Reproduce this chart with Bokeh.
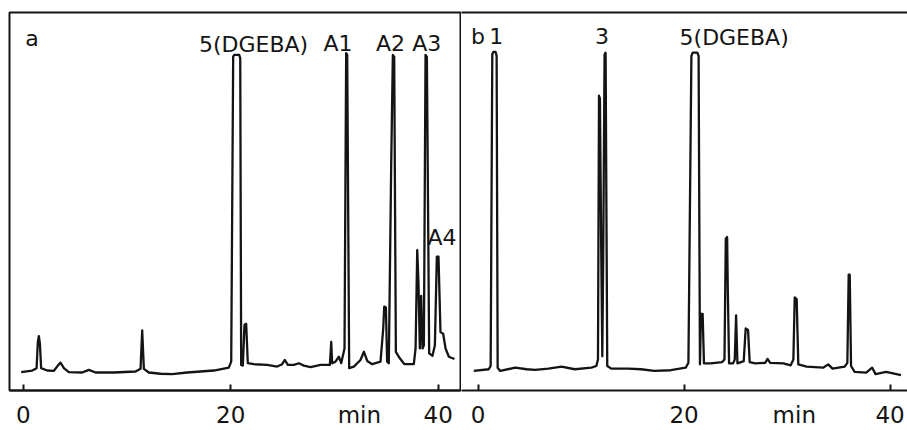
from bokeh.plotting import figure
from bokeh.layouts import row
from bokeh.models import FixedTicker, LinearAxis, Label, Range1d, ColumnDataSource
from bokeh.embed import file_html
from bokeh.resources import INLINE
from bokeh.core.properties import value

# ---------------- data ----------------
# Panel a: retention time (min) and detector signal (arbitrary units)
time_a = [-0.19, 0.87, 1.29, 1.41, 1.51, 1.61, 1.73, 2.31, 2.96, 3.34, 3.60, 3.92,
          4.40, 5.69, 6.33, 6.97, 8.74, 10.83, 11.31, 11.47, 11.63, 12.11, 13.24,
          14.36, 15.81, 18.38, 19.82, 20.05, 20.24, 20.34, 20.82, 20.92, 21.01,
          21.17, 21.33, 21.49, 21.65, 22.23, 23.52, 24.48, 24.96, 25.22, 25.51,
          26.09, 26.57, 27.05, 27.70, 28.66, 29.56, 29.69, 29.78, 30.10, 30.43,
          30.65, 30.97, 31.13, 31.23, 31.42, 31.87, 32.51, 32.84, 33.16, 33.64,
          34.44, 34.70, 34.80, 34.96, 35.08, 35.24, 35.47, 35.63, 35.76, 35.92,
          36.30, 36.75, 37.65, 37.82, 37.98, 38.10, 38.23, 38.36, 38.49, 38.62,
          38.78, 38.91, 39.13, 39.45, 39.68, 39.87, 40.03, 40.22, 40.48, 40.71,
          41.03, 41.57]
signal_a = [18.7, 20.3, 22.7, 49.0, 55.3, 47.7, 22.7, 20.3, 20.0, 25.3, 28.3, 22.7,
            18.7, 18.3, 21.0, 18.3, 18.3, 19.3, 22.0, 61.0, 22.0, 18.3, 17.0,
            16.7, 18.3, 20.3, 23.3, 29.3, 339.3, 341.0, 341.0, 337.7, 26.0,
            25.3, 66.7, 67.7, 27.7, 26.7, 26.0, 24.3, 26.7, 31.0, 26.0,
            26.0, 27.7, 25.3, 23.7, 26.0, 26.0, 49.3, 27.7, 29.3, 34.3,
            27.7, 42.7, 342.7, 341.0, 22.7, 24.3, 31.0, 39.3, 30.0, 26.7,
            29.3, 62.7, 85.3, 84.3, 29.3, 27.7, 229.0, 341.0, 339.0, 39.3,
            32.7, 26.7, 26.7, 42.7, 142.7, 109.0, 42.7, 96.0, 42.7, 46.0,
            341.0, 339.0, 37.7, 35.3, 46.0, 136.0, 136.0, 59.3, 57.7, 42.7,
            34.3, 32.0]

# Panel b
time_b = [-0.42, 1.03, 1.22, 1.38, 1.48, 1.70, 1.80, 1.90, 2.15, 3.60, 4.73, 5.53,
          6.82, 8.10, 9.39, 11.00, 11.48, 11.64, 11.74, 11.83, 11.96, 12.06, 12.15,
          12.28, 12.38, 12.54, 12.93, 14.53, 15.82, 17.10, 18.71, 20.16, 20.42,
          20.71, 20.84, 21.29, 21.41, 21.54, 21.64, 21.80, 21.93, 22.57, 23.70,
          23.92, 24.05, 24.18, 24.24, 24.37, 24.76, 24.92, 25.05, 25.18, 25.79,
          25.98, 26.21, 26.37, 26.91, 27.88, 28.10, 28.36, 29.65, 30.35, 30.61,
          30.74, 30.93, 31.09, 31.90, 33.50, 33.99, 34.41, 35.59, 35.85, 35.98,
          36.08, 36.21, 36.56, 37.68, 38.26, 38.59, 39.61, 41.06]
signal_b = [20.0, 21.7, 25.0, 343.3, 345.7, 345.7, 341.7, 23.3, 20.0, 23.3, 21.7, 21.0,
            22.3, 24.3, 21.7, 23.3, 25.0, 31.7, 301.0, 298.0, 138.0, 35.0, 138.0,
            343.0, 345.0, 25.0, 22.3, 22.3, 21.7, 20.0, 20.7, 23.3, 28.3,
            341.7, 345.0, 345.0, 341.7, 26.7, 78.3, 78.3, 27.7, 27.7, 29.0,
            31.7, 155.0, 156.7, 105.0, 27.7, 27.7, 31.7, 76.7, 27.7, 30.0,
            63.3, 61.7, 29.0, 27.7, 28.3, 32.3, 28.3, 27.7, 25.7, 31.7,
            95.0, 93.3, 26.7, 24.3, 23.3, 26.7, 22.3, 24.3, 28.3, 118.3,
            118.3, 25.0, 19.0, 18.3, 23.3, 16.7, 19.0, 15.7]

peak_labels_a = ["5(DGEBA)", "A1", "A2", "A3", "A4"]
peak_label_time_a = [22.2, 30.34, 35.4, 38.9, 40.37]
peak_label_height_a = [351, 353, 353, 353, 155]

peak_labels_b = ["1", "3", "5(DGEBA)"]
peak_label_time_b = [1.76, 12.03, 24.86]
peak_label_height_b = [362, 362, 360]

panel_names = ["a", "b"]
tick_values = [0, 20, 40]
time_unit = "min"
unit_label_time = [32.4, 30.7]

# ---------------- styling ----------------
H = 430
FONT = "DejaVu Sans"
INK = "#141414"
FS = "22px"
TICK_FS = "23px"


def make_panel(width, xr, yr, border_left, border_right, border_bottom, unit_time):
    p = figure(width=width, height=H, x_range=Range1d(*xr), y_range=Range1d(*yr),
               output_backend="svg", toolbar_location=None, y_axis_location=None,
               min_border=0, min_border_left=border_left, min_border_right=border_right,
               min_border_top=12, min_border_bottom=border_bottom)
    p.grid.visible = False
    p.background_fill_color = "white"
    p.border_fill_color = "white"
    # axis line with short inward tick marks (no labels: marks only)
    ax = p.xaxis[0]
    ax.ticker = FixedTicker(ticks=[], minor_ticks=tick_values)
    ax.axis_line_width = 2
    ax.axis_line_color = INK
    ax.major_tick_in = 0
    ax.major_tick_out = 0
    ax.major_tick_line_color = None
    ax.minor_tick_in = 6
    ax.minor_tick_out = 0
    ax.minor_tick_line_width = 2
    ax.minor_tick_line_color = INK
    ax.major_label_standoff = 0
    # label row: tick numbers plus the time unit
    lab = LinearAxis(ticker=FixedTicker(ticks=tick_values + [unit_time], minor_ticks=[]),
                     major_label_overrides={unit_time: time_unit},
                     axis_line_color=None, major_tick_line_color=None,
                     minor_tick_line_color=None, major_tick_in=0, major_tick_out=0,
                     minor_tick_in=0, minor_tick_out=0,
                     major_label_text_font=FONT, major_label_text_font_size=TICK_FS,
                     major_label_text_color=INK, major_label_standoff=11)
    p.add_layout(lab, "below")
    return p


pa = make_panel(461, (-1.32, 42.15), (0, 384), 9, 1, 34, unit_label_time[0])
pa.outline_line_color = INK
pa.outline_line_width = 2
pa.outline_line_alpha = 1.0

pb = make_panel(446, (-1.61, 41.69), (0, 386), 0, 0, 32, unit_label_time[1])
pb.outline_line_color = None
top = LinearAxis(ticker=FixedTicker(ticks=[], minor_ticks=[]), axis_line_width=2,
                 axis_line_color=INK, major_tick_in=0, major_tick_out=0,
                 minor_tick_in=0, minor_tick_out=0, major_label_standoff=0)
pb.add_layout(top, "above")

for p, t, s in ((pa, time_a, signal_a), (pb, time_b, signal_b)):
    p.line(t, s, line_color=INK, line_width=2.3, line_join="round")

src_a = ColumnDataSource(dict(x=peak_label_time_a, y=peak_label_height_a, text=peak_labels_a))
src_b = ColumnDataSource(dict(x=peak_label_time_b, y=peak_label_height_b, text=peak_labels_b))
for p, src in ((pa, src_a), (pb, src_b)):
    p.text(x="x", y="y", text="text", source=src, text_font=value(FONT),
           text_font_size=FS, text_color=INK, text_align="center",
           text_baseline="alphabetic")

pa.add_layout(Label(x=0.85, y=358, text=panel_names[0], text_font=FONT, text_font_size=FS,
                    text_color=INK, text_align="center", text_baseline="alphabetic"))
pb.add_layout(Label(x=0.0, y=362, text=panel_names[1], text_font=FONT, text_font_size=FS,
                    text_color=INK, text_align="center", text_baseline="alphabetic"))

layout = row(pa, pb, spacing=0)
open("out.html", "w").write(file_html(layout, INLINE))
